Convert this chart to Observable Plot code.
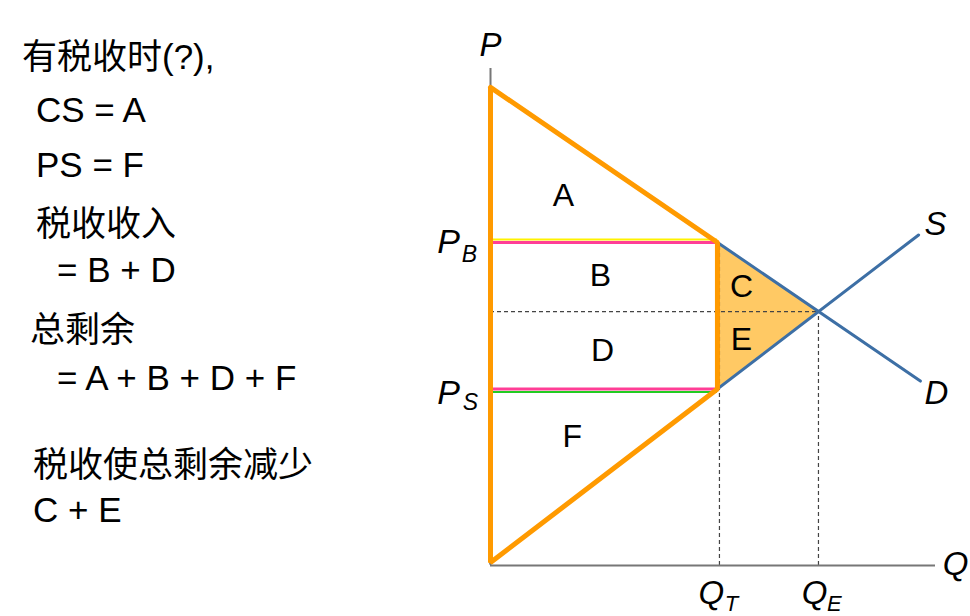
<!DOCTYPE html>
<html>
<head>
<meta charset="utf-8">
<script src="https://cdn.jsdelivr.net/npm/d3@7"></script>
<script src="https://cdn.jsdelivr.net/npm/@observablehq/plot@0.6"></script>
<style>
  body { margin: 0; background: #fff; }
  #wrap { position: relative; width: 970px; height: 616px; overflow: hidden; }
  #chart { position: absolute; left: 0; top: 0; }
  .note { position: absolute; font-family: "Liberation Sans", Arial, "Noto Sans CJK SC", sans-serif;
          font-size: 35px; line-height: 34px; color: #000; white-space: nowrap; }
</style>
</head>
<body>
<div id="wrap">
  <div id="chart"></div>
  <div class="note" style="left:22px;top:40px">有税收时(?),</div>
  <div class="note" style="left:36px;top:93px">CS = A</div>
  <div class="note" style="left:36px;top:148px">PS = F</div>
  <div class="note" style="left:36px;top:207px">税收收入</div>
  <div class="note" style="left:57px;top:253px">= B + D</div>
  <div class="note" style="left:30px;top:313px">总剩余</div>
  <div class="note" style="left:57px;top:361px">= A + B + D + F</div>
  <div class="note" style="left:33px;top:448px">税收使总剩余减少</div>
  <div class="note" style="left:33px;top:493px">C + E</div>
</div>
<script>
// Curves (quantity, price) endpoints
const demandQ = [0, 96.6];
const demandP = [96.2, 37.1];
const supplyQ = [0, 96.2];
const supplyP = [0.6, 66.5];

// Key levels
const qT = 51;     // quantity with tax
const qE = 73.7;   // equilibrium quantity
const pB = 65;     // price buyers pay
const pS = 35.5;   // price sellers receive
const pE = 51.1;   // equilibrium price

// Region labels
const regionNames = ["A", "B", "C", "D", "E", "F"];
const regionQ = [16.4, 24.7, 56.4, 25.2, 56.4, 18.4];
const regionP = [74.4, 58.4, 56.1, 43.3, 45.5, 26.0];

const FONT = '"Liberation Sans", Arial, sans-serif';
const blue = "#3D6FA5";
const orange = "#FF9A00";

const demand = demandQ.map((q, i) => ({q, p: demandP[i]}));
const supply = supplyQ.map((q, i) => ({q, p: supplyP[i]}));
const dwl = [{q: qT, lo: pS, hi: pB}, {q: qE, lo: pE, hi: pE}];
const outline = [
  {q: demandQ[0], p: demandP[0]},
  {q: qT, p: pB},
  {q: qT, p: pS},
  {q: supplyQ[0], p: supplyP[0]},
  {q: demandQ[0], p: demandP[0]}
];
const regions = regionNames.map((name, i) => ({name, q: regionQ[i], p: regionP[i]}));

const italic = {fontFamily: FONT, fontStyle: "italic", fill: "#000"};

const chart = Plot.plot({
  width: 970,
  height: 616,
  marginLeft: 490,
  marginRight: 35,
  marginTop: 68,
  marginBottom: 51,
  x: {domain: [0, 100], axis: null},
  y: {domain: [0, 100], axis: null},
  style: {fontFamily: FONT, background: "transparent"},
  marks: [
    // deadweight loss triangle
    Plot.areaY(dwl, {x: "q", y1: "lo", y2: "hi", fill: "#FFC964", fillOpacity: 1}),
    // dashed guides
    Plot.ruleY([pE], {x1: 0, x2: qE, stroke: "#444", strokeWidth: 1.2, strokeDasharray: "4,3"}),
    Plot.ruleX([qT], {y1: 0, y2: pB, stroke: "#444", strokeWidth: 1.2, strokeDasharray: "4,3", dx: 2}),
    Plot.ruleX([qE], {y1: 0, y2: pE, stroke: "#444", strokeWidth: 1.2, strokeDasharray: "4,3"}),
    // axes
    Plot.ruleX([0], {y1: 0, y2: 100, stroke: "#777", strokeWidth: 2}),
    Plot.ruleY([0], {x1: 0, x2: 100, stroke: "#777", strokeWidth: 2}),
    // supply & demand
    Plot.line(demand, {x: "q", y: "p", stroke: blue, strokeWidth: 3}),
    Plot.line(supply, {x: "q", y: "p", stroke: blue, strokeWidth: 3}),
    // price lines
    Plot.ruleY([pB], {x1: 0, x2: qT, stroke: "#FFF200", strokeWidth: 2, dy: -3}),
    Plot.ruleY([pS], {x1: 0, x2: qT, stroke: "#22CC22", strokeWidth: 2, dy: 3}),
    Plot.ruleY([pB], {x1: 0, x2: qT, stroke: "#FF3E96", strokeWidth: 3}),
    Plot.ruleY([pS], {x1: 0, x2: qT, stroke: "#FF3E96", strokeWidth: 3}),
    // orange outline of surplus
    Plot.line(outline, {x: "q", y: "p", stroke: orange, strokeWidth: 5, strokeLinejoin: "miter"}),
    // region labels
    Plot.text(regions, {x: "q", y: "p", text: "name", fontSize: 32, fontFamily: FONT, fill: "#000"}),
    // axis labels
    Plot.text(["P"], {x: 0, y: 100, dy: -23, fontSize: 33, ...italic}),
    Plot.text(["Q"], {x: 100, y: 0, dx: 20, dy: -1, fontSize: 33, ...italic}),
    Plot.text(["S"], {x: supplyQ[1], y: supplyP[1], dx: 17, dy: -11, fontSize: 33, ...italic}),
    Plot.text(["D"], {x: demandQ[1], y: demandP[1], dx: 16, dy: 12, fontSize: 33, ...italic}),
    // Q_T, Q_E
    Plot.text(["Q"], {x: qT, y: 0, dx: -6, dy: 28, fontSize: 33, ...italic}),
    Plot.text(["T"], {x: qT, y: 0, dx: 14, dy: 38, fontSize: 22, ...italic}),
    Plot.text(["Q"], {x: qE, y: 0, dx: -4, dy: 28, fontSize: 33, ...italic}),
    Plot.text(["E"], {x: qE, y: 0, dx: 16, dy: 38, fontSize: 22, ...italic}),
    // P_B, P_S
    Plot.text(["P"], {x: 0, y: pB, dx: -42, dy: 0, fontSize: 34, ...italic}),
    Plot.text(["B"], {x: 0, y: pB, dx: -21, dy: 12, fontSize: 23, ...italic}),
    Plot.text(["P"], {x: 0, y: pS, dx: -42, dy: 4, fontSize: 34, ...italic}),
    Plot.text(["S"], {x: 0, y: pS, dx: -20, dy: 14, fontSize: 23, ...italic})
  ]
});
document.getElementById("chart").appendChild(chart);
</script>
</body>
</html>
